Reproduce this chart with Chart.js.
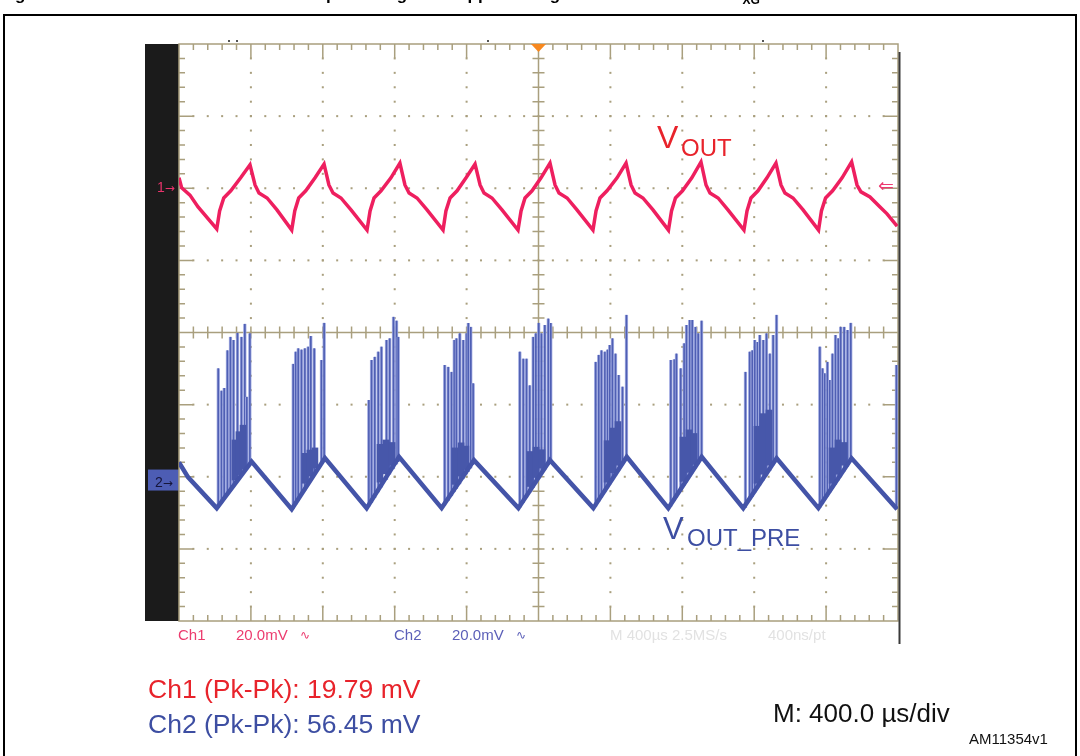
<!DOCTYPE html>
<html>
<head>
<meta charset="utf-8">
<script src="https://cdn.jsdelivr.net/npm/chart.js@4.4.0/dist/chart.umd.min.js"></script>
<style>
body{margin:0;background:#fff;width:1080px;height:756px;overflow:hidden;position:relative;font-family:"Liberation Sans",Arial,sans-serif}
#c{position:absolute;left:0;top:0}
#frame{position:absolute;left:3px;top:14px;width:1070px;height:800px;border:2px solid #000}
.t{position:absolute;white-space:nowrap;line-height:1}
.ar{font-family:"DejaVu Sans",sans-serif}
.ro{font-size:15px;top:627px}
</style>
</head>
<body>
<div id="frame"></div>
<canvas id="c" width="1080" height="756"></canvas>

<div class="t" style="left:0;top:-14px;font-size:17px;font-weight:bold">Figure 24. Ch1 and Ch2 traces of the output voltage and ripple during the burst mode with V<span style="font-size:12px;position:relative;top:4px">XG</span></div>

<div class="t" style="left:157px;top:180px;font-size:14px;color:#e8336b">1<span class="ar" style="font-size:12px">→</span></div>
<div class="t" style="left:155px;top:475px;font-size:14px;color:#15153a">2<span class="ar" style="font-size:12px">→</span></div>
<div class="t ar" style="left:878px;top:176px;font-size:19px;color:#ee3a70">⇐</div>

<div class="t" style="left:657px;top:121px;font-size:32px;color:#e8232b">V</div>
<div class="t" style="left:681px;top:136px;font-size:24px;color:#e8232b">OUT</div>
<div class="t" style="left:663px;top:513px;font-size:31px;color:#3d4ea2">V</div>
<div class="t" style="left:687px;top:526px;font-size:24px;color:#3d4ea2">OUT_PRE</div>

<div class="t ro" style="left:178px;color:#ec3b6e">Ch1</div>
<div class="t ro" style="left:236px;color:#ec3b6e">20.0mV</div>
<div class="t ro ar" style="left:300px;color:#ec3b6e;font-size:12px;top:629px">∿</div>
<div class="t ro" style="left:394px;color:#5b5fb8">Ch2</div>
<div class="t ro" style="left:452px;color:#5b5fb8">20.0mV</div>
<div class="t ro ar" style="left:516px;color:#5b5fb8;font-size:12px;top:629px">∿</div>
<div class="t ro" style="left:610px;color:#e2e2e2">M 400µs 2.5MS/s</div>
<div class="t ro" style="left:768px;color:#e2e2e2">400ns/pt</div>

<div class="t" style="left:148px;top:676px;font-size:26.5px;color:#e8232b">Ch1 (Pk-Pk): 19.79 mV</div>
<div class="t" style="left:148px;top:711px;font-size:26.5px;color:#3d4ea2">Ch2 (Pk-Pk): 56.45 mV</div>
<div class="t" style="left:773px;top:700px;font-size:26px;color:#111">M: 400.0 µs/div</div>
<div class="t" style="left:969px;top:731px;font-size:15px;color:#111">AM11354v1</div>

<script>
// time in µs (400 µs/div, 10 div), voltage in mV (20 mV/div, 8 div, 0 = screen centre)
const xMin = 0, xMax = 4000;
const yMin = -80, yMax = 80;

// Ch1 - V_OUT
const ch1Time = [0, 15, 61, 106, 210,
  226, 249, 288, 343, 395, 423, 445, 490, 545, 627,
  644, 666, 705, 757, 807, 834, 857, 901, 957, 1046,
  1063, 1085, 1124, 1179, 1229, 1257, 1280, 1324, 1380, 1469,
  1485, 1508, 1547, 1597, 1647, 1675, 1697, 1741, 1797, 1886,
  1903, 1925, 1964, 2014, 2064, 2092, 2114, 2159, 2214, 2303,
  2320, 2342, 2381, 2437, 2487, 2515, 2537, 2581, 2637, 2723,
  2740, 2762, 2801, 2853, 2904, 2932, 2954, 2999, 3054, 3143,
  3160, 3182, 3221, 3271, 3321, 3349, 3371, 3416, 3472, 3558,
  3574, 3597, 3636, 3689, 3742, 3772, 3794, 3844, 3900, 3939, 3995];
const ch1Volt = [42.9, 40.1, 38.1, 34.8, 28.7,
  33.7, 37.3, 39.3, 42.9, 46.5, 40.9, 38.7, 37.3, 34.0, 28.4,
  33.7, 37.3, 39.3, 42.9, 46.7, 40.9, 38.7, 37.3, 34.0, 28.4,
  33.7, 37.3, 39.3, 42.9, 47.0, 40.9, 38.7, 37.3, 34.0, 28.4,
  33.7, 37.3, 39.3, 42.9, 46.7, 40.9, 38.7, 37.3, 34.0, 28.4,
  33.7, 37.3, 39.3, 42.9, 47.0, 40.9, 38.7, 37.3, 34.0, 28.4,
  33.7, 37.3, 39.3, 42.9, 47.0, 40.9, 38.7, 37.3, 34.0, 28.4,
  33.7, 37.3, 39.3, 42.9, 47.3, 40.9, 38.7, 37.3, 34.0, 28.4,
  33.7, 37.3, 39.3, 42.9, 47.0, 40.9, 38.7, 37.3, 34.0, 28.4,
  33.7, 37.3, 39.3, 42.9, 47.3, 40.9, 39.0, 37.6, 34.8, 32.9, 29.5];

// Ch2 - V_OUT_PRE, triangle part
const ch2Time = [0, 50, 210, 404, 627, 812, 1044, 1224, 1461, 1641, 1888, 2064,
  2305, 2491, 2722, 2908, 3139, 3325, 3557, 3742, 3995];
const ch2Volt = [-36.0, -40.1, -48.7, -35.8, -49.0, -34.8, -48.7, -34.5, -48.7, -35.4, -48.7, -35.4,
  -48.7, -34.5, -48.7, -34.5, -48.7, -34.9, -48.7, -34.9, -49.0];

// Ch2 switching spikes
const spikeTime = [210, 228, 243, 261, 278, 295, 317, 339, 358, 369, 386,
  627, 641, 655, 673, 692, 710, 725, 744, 784, 799,
  1048, 1063, 1081, 1100, 1118, 1146, 1164, 1185, 1202, 1211,
  1470, 1489, 1508, 1523, 1535, 1554, 1573, 1591, 1601, 1615, 1628,
  1888, 1907, 1925, 1943, 1962, 1977, 1993, 2008, 2027, 2046, 2060,
  2310, 2327, 2342, 2361, 2376, 2388, 2403, 2420, 2438, 2459, 2481,
  2728, 2747, 2759, 2783, 2802, 2815, 2833, 2847, 2865, 2880, 2899,
  3143, 3167, 3181, 3195, 3210, 3223, 3242, 3260, 3279, 3297, 3316,
  3557, 3572, 3584, 3599, 3612, 3627, 3644, 3659, 3673, 3692, 3711, 3729,
  3983];
const spikeBase = [-48.7, -47.4, -46.4, -45.1, -44.0, -42.8, -41.3, -39.8, -38.5, -37.8, -36.6,
  -49.0, -47.8, -46.8, -45.3, -43.9, -42.4, -41.2, -39.8, -36.6, -35.4,
  -48.3, -47.3, -45.9, -44.4, -43.0, -40.9, -39.4, -37.9, -36.6, -35.9,
  -48.0, -46.7, -45.4, -44.3, -43.4, -42.1, -40.7, -39.4, -38.7, -37.7, -36.7,
  -48.7, -47.3, -45.9, -44.5, -43.1, -42.0, -40.7, -39.6, -38.2, -36.8, -35.7,
  -48.3, -47.0, -45.8, -44.4, -43.2, -42.3, -41.1, -39.8, -38.4, -36.8, -35.1,
  -48.3, -46.8, -45.8, -44.0, -42.5, -41.6, -40.1, -39.1, -37.7, -36.6, -35.1,
  -48.7, -46.6, -45.6, -44.5, -43.4, -42.5, -41.1, -39.7, -38.4, -36.9, -35.6,
  -48.7, -47.6, -46.6, -45.5, -44.5, -43.4, -42.2, -41.1, -40.0, -38.6, -37.2, -35.9,
  -48.7];
const spikeTop = [-9.9, -16.1, -15.4, -4.9, -1.2, -2.1, -0.1, -1.2, 2.4, -17.8, -0.2,
  -8.7, -5.3, -4.4, -4.7, -4.4, -3.9, -1.0, -4.4, -7.6, 2.7,
  -18.7, -7.6, -6.7, -5.3, -3.9, -2.1, -1.6, 4.4, 3.3, -1.2,
  -9.0, -9.5, -10.9, -2.1, -1.6, -0.2, -2.1, -0.2, 2.6, 1.6, -14.1,
  -5.3, -7.2, -7.2, -14.6, -1.2, -0.2, 2.7, -0.2, 2.1, 3.9, 2.6,
  -8.1, -6.2, -4.9, -5.3, -4.7, -3.5, -1.6, -5.8, -11.8, -15.0, 4.9,
  -7.6, -7.4, -5.8, -9.9, -3.0, 2.1, 3.5, 3.5, 1.6, -0.2, 3.3,
  -10.9, -5.3, -4.9, -2.1, -2.6, -0.7, -2.1, -0.2, -5.8, -0.7, 4.9,
  -3.9, -9.9, -11.3, -8.1, -13.2, -5.8, -0.7, -1.6, 1.6, 1.6, 0.7, 2.7,
  -9.0];

// Ch2 dense ringing at the end of each ramp
const burstTime = [328, 350, 373, 718, 745, 773, 1135, 1168, 1202, 1552, 1586, 1613,
  1969, 2003, 2036, 2398, 2431, 2459, 2821, 2854, 2882, 3232, 3266, 3299, 3650, 3683, 3716];
const burstBase = [-40.9, -39.4, -37.9, -41.8, -39.8, -37.6, -41.5, -39.2, -36.8, -42.1, -39.8, -38.0,
  -42.7, -40.2, -37.6, -41.5, -38.9, -36.8, -41.3, -38.8, -36.6, -41.8, -39.3, -36.8, -41.8, -39.3, -36.8];
const burstTop = [-29.8, -27.5, -25.7, -33.5, -32.6, -32.0, -31.0, -29.8, -30.5, -32.0, -30.6, -31.5,
  -33.0, -31.8, -32.5, -30.0, -26.5, -24.7, -29.0, -27.0, -28.0, -26.0, -22.5, -21.5, -32.0, -29.8, -30.5];

const gridColor = "#a99f7e";

// oscilloscope graticule, side bar and markers
const scopeScreen = {
    id: "scopeScreen",
    beforeDatasetsDraw(chart) {
        const ctx = chart.ctx;
        const a = chart.chartArea;
        const L = a.left, R = a.right, T = a.top, B = a.bottom;
        const dx = (R - L) / 10, dy = (B - T) / 8;
        const cx = L + 5 * dx, cy = T + 4 * dy;
        ctx.save();
        ctx.fillStyle = "#1b1b1b";
        ctx.fillRect(L - 34, T, 34, B - T);
        // ch2 marker box
        ctx.fillStyle = "#4d5db4";
        ctx.fillRect(L - 31, T + 5.9 * dy, 31, 21);

        ctx.fillStyle = gridColor;
        for (let i = 1; i < 10; i++) {
            if (i === 5) continue;
            for (let k = 1; k < 40; k++) ctx.fillRect(L + i * dx - 1, T + k * dy / 5 - 1, 2, 2);
        }
        for (let j = 1; j < 8; j++) {
            if (j === 4) continue;
            for (let k = 1; k < 50; k++) ctx.fillRect(L + k * dx / 5 - 1, T + j * dy - 1, 2, 2);
        }

        ctx.strokeStyle = gridColor;
        ctx.lineWidth = 1.5;
        ctx.strokeRect(L, T, R - L, B - T);
        ctx.beginPath();
        ctx.moveTo(cx, T); ctx.lineTo(cx, B);
        ctx.moveTo(L, cy); ctx.lineTo(R, cy);
        for (let k = 1; k < 50; k++) {
            const x = L + k * dx / 5;
            const len = k % 5 === 0 ? 14 : 6;
            ctx.moveTo(x, T); ctx.lineTo(x, T + len);
            ctx.moveTo(x, B); ctx.lineTo(x, B - len);
            ctx.moveTo(x, cy - 6); ctx.lineTo(x, cy + 6);
        }
        for (let k = 1; k < 40; k++) {
            const y = T + k * dy / 5;
            const len = k % 5 === 0 ? 14 : 6;
            ctx.moveTo(L, y); ctx.lineTo(L + len, y);
            ctx.moveTo(R, y); ctx.lineTo(R - len, y);
            ctx.moveTo(cx - 6, y); ctx.lineTo(cx + 6, y);
        }
        ctx.stroke();

        // right edge of the screen
        ctx.strokeStyle = "#3a3a3a";
        ctx.lineWidth = 2;
        ctx.beginPath();
        ctx.moveTo(R + 1.5, T + 8); ctx.lineTo(R + 1.5, B + 23);
        ctx.stroke();

        // small markers above the screen
        ctx.fillStyle = "#555";
        [228, 236, 487, 762].forEach(x => ctx.fillRect(x, T - 4, 2, 2));

        // trigger position
        ctx.fillStyle = "#f7881f";
        ctx.beginPath();
        ctx.moveTo(cx - 7.5, T); ctx.lineTo(cx + 7.5, T); ctx.lineTo(cx, T + 8);
        ctx.closePath();
        ctx.fill();
        ctx.restore();
    }
};

new Chart(document.getElementById("c").getContext("2d"), {
    type: "line",
    data: {
        datasets: [
            {
                type: "line", label: "Ch1",
                data: ch1Time.map((t, i) => ({x: t, y: ch1Volt[i]})),
                borderColor: "#ee1f5f", borderWidth: 3.5, pointRadius: 0, tension: 0, order: 1
            },
            {
                type: "line", label: "Ch2",
                data: ch2Time.map((t, i) => ({x: t, y: ch2Volt[i]})),
                borderColor: "#4454a8", borderWidth: 4.5, pointRadius: 0, tension: 0, order: 2
            },
            {
                type: "bar", label: "Ch2 ringing",
                data: burstTime.map((t, i) => ({x: t, y: [burstBase[i], burstTop[i]]})),
                backgroundColor: "#4757aa", barThickness: 6, order: 3
            },
            {
                type: "bar", label: "Ch2 spikes",
                data: spikeTime.map((t, i) => ({x: t, y: [spikeBase[i], spikeTop[i]]})),
                backgroundColor: "#4f5fb4", borderColor: "rgba(160,170,225,0.9)",
                borderWidth: {left: 1, right: 1, top: 0, bottom: 0}, barThickness: 3, order: 4
            }
        ]
    },
    options: {
        responsive: false,
        animation: false,
        events: [],
        layout: {padding: {left: 179, top: 44, right: 182, bottom: 135}},
        plugins: {legend: {display: false}, tooltip: {enabled: false}},
        scales: {
            x: {type: "linear", min: xMin, max: xMax, offset: false, display: false},
            y: {type: "linear", min: yMin, max: yMax, display: false}
        }
    },
    plugins: [scopeScreen]
});
</script>
</body>
</html>
